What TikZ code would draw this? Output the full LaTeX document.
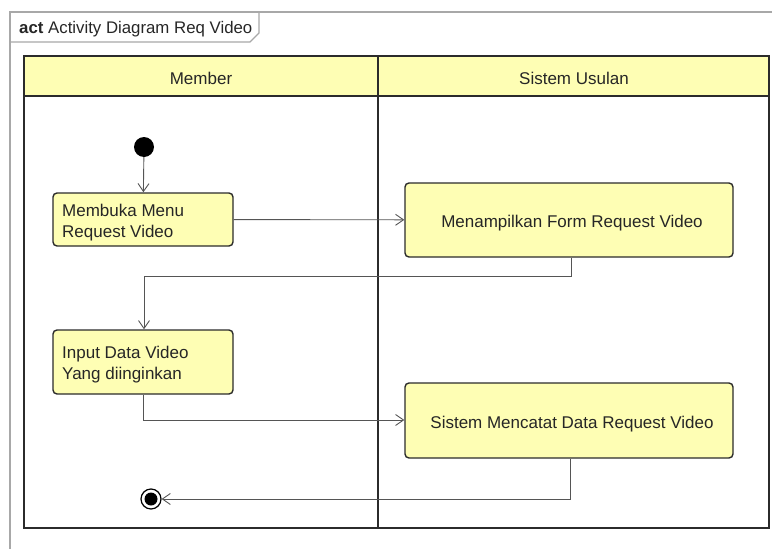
\documentclass[tikz,border=0pt]{standalone}
\usepackage{fontspec}
\setmainfont{Liberation Sans}
\usetikzlibrary{arrows.meta,positioning}
\definecolor{umlfill}{HTML}{FEFEB4}
\definecolor{umlline}{HTML}{2B2B2B}
\definecolor{flowline}{HTML}{555555}
\definecolor{framegray}{HTML}{A8A8A8}
\tikzset{
  lane/.style={draw=umlline, line width=1.5pt},
  lanehead/.style={draw=umlline, line width=1.5pt, fill=umlfill},
  actbox/.style={draw=umlline, line width=1.4pt, fill=umlfill, rounded corners=4pt, inner sep=0pt},
  flow/.style={draw=flowline, line width=0.9pt, -{Straight Barb[length=8pt,width=11pt,line width=0.9pt]}},
  txt/.style={font=\fontsize{17}{21}\selectfont, text=black!85, inner sep=0pt},
}
\begin{document}
\begin{tikzpicture}[x=1pt,y=-1pt]
\useasboundingbox (0,0) rectangle (772,549);
% outer frame with its name tab
\draw[framegray, line width=1.2pt] (10,549) -- (10,12) -- (772,12);
\draw[framegray, line width=1.2pt] (10,42) -- (250,42) -- (259,33) -- (259,12);
\node[anchor=west, inner sep=0pt, font=\fontsize{16.8}{18}\selectfont, text=black!85] (title) at (19,29)
  {\textbf{act} Activity Diagram Req Video};
% swimlanes
\path[lanehead] (24,56) rectangle (378,96);
\path[lanehead] (378,56) rectangle (769,96);
\draw[lane] (24,56) rectangle (769,528);
\draw[lane] (378,56) -- (378,528);
\node[txt] (laneA) at (201,78) {Member};
\node[txt] (laneB) at (574,78) {Sistem Usulan};
% start and end nodes
\node[circle, fill=black, minimum size=20pt, inner sep=0pt] (start) at (144,147) {};
\node[circle, draw=black, line width=1.2pt, fill=white, minimum size=20pt, inner sep=0pt] (end) at (151,499) {};
\node[circle, fill=black, minimum size=13pt, inner sep=0pt] (endin) at (151,499) {};
% actions
\node[actbox, minimum width=180pt, minimum height=53pt] (a1) at (143,219.5) {};
\node[txt, anchor=west, align=left] (a1t) at (62,223) {Membuka Menu\\Request Video};
\node[actbox, minimum width=328pt, minimum height=74pt] (a2) at (569,220) {};
\node[txt] (a2t) at (572,223) {Menampilkan Form Request Video};
\node[actbox, minimum width=180pt, minimum height=64pt] (a3) at (143,362) {};
\node[txt, anchor=west, align=left] (a3t) at (62,365) {Input Data Video\\Yang diinginkan};
\node[actbox, minimum width=328pt, minimum height=75pt] (a4) at (569,420.5) {};
\node[txt] (a4t) at (572,424) {Sistem Mencatat Data Request Video};
% control flow
\draw[flow] (start) -- (a1);
\draw[flow] (a1) -- (a2);
\draw[flow] (a2.south -| 571,0) |- (144,276) -- (a3.north -| 144,0);
\draw[flow] (a3.south) |- (a4.west |- 0,420);
\draw[flow] (a4.south -| 570,0) |- (end);
\end{tikzpicture}
\end{document}
